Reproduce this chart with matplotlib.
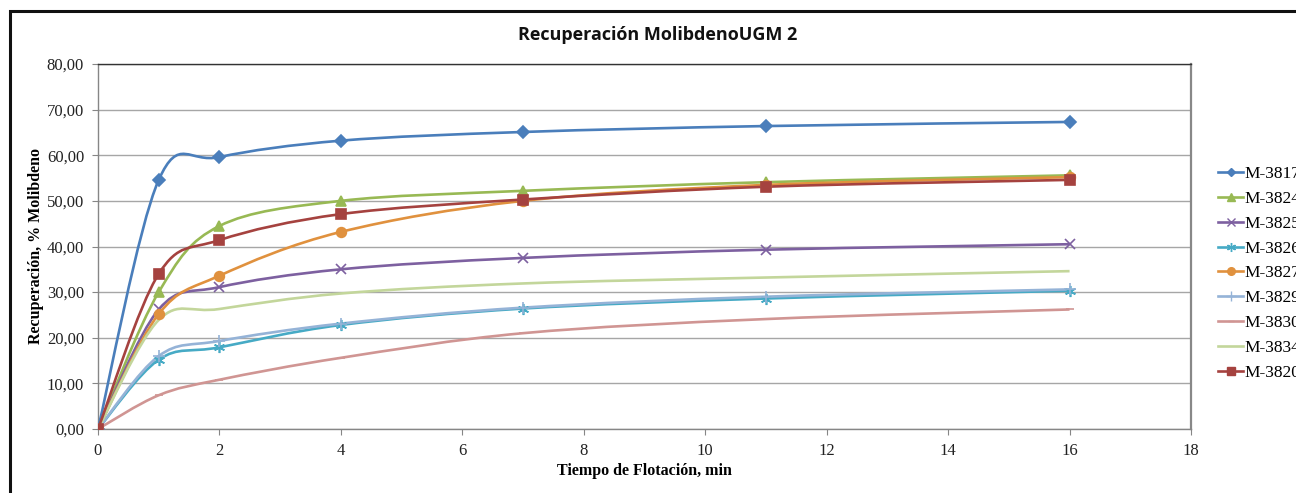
import numpy as np
import matplotlib
matplotlib.use("Agg")
import matplotlib.pyplot as plt
from matplotlib.path import Path
from matplotlib.patches import PathPatch, Rectangle
from matplotlib.lines import Line2D
from matplotlib.ticker import FuncFormatter, MultipleLocator

# ---- data ----
tiempo = [0, 1, 2, 4, 7, 11, 16]
series_names = ["M-3817", "M-3824", "M-3825", "M-3826", "M-3827",
                "M-3829", "M-3830", "M-3834", "M-3820"]
m3817 = [0, 54.6, 59.6, 63.2, 65.1, 66.4, 67.3]
m3824 = [0, 30.0, 44.5, 50.0, 52.2, 54.1, 55.6]
m3825 = [0, 26.2, 31.1, 35.0, 37.5, 39.3, 40.5]
m3826 = [0, 15.2, 17.9, 22.8, 26.4, 28.6, 30.3]
m3827 = [0, 25.2, 33.6, 43.2, 50.0, 53.5, 55.2]
m3829 = [0, 16.0, 19.3, 23.1, 26.6, 29.0, 30.6]
m3830 = [0, 7.4, 10.8, 15.6, 21.0, 24.1, 26.2]
m3834 = [0, 23.9, 26.3, 29.7, 31.9, 33.2, 34.6]
m3820 = [0, 34.0, 41.4, 47.1, 50.3, 53.1, 54.6]
values = [m3817, m3824, m3825, m3826, m3827, m3829, m3830, m3834, m3820]

colors = ["#4A7EBB", "#98B954", "#7D60A0", "#46AAC5", "#E0913E",
          "#95B3D7", "#D09593", "#C3D69B", "#A5423F"]
markers = ["D", "^", "x", (6, 2, 0), "o", "+", "_", None, "s"]
msizes = [6, 7, 7, 8, 7, 8, 6, 0, 7]

fig = plt.figure(figsize=(12.96, 4.93), dpi=100)
ax = fig.add_axes([98/1296, 1-429/493, (1191-98)/1296, (429-64)/493])


def smooth_path(x, y, k=6.0):
    pts = np.column_stack([x, y]).astype(float)
    n = len(pts)
    verts = [pts[0]]
    codes = [Path.MOVETO]
    for i in range(n - 1):
        p0 = pts[i - 1] if i > 0 else pts[i]
        p1 = pts[i]
        p2 = pts[i + 1]
        p3 = pts[i + 2] if i + 2 < n else pts[i + 1]
        c1 = p1 + (p2 - p0) / k
        c2 = p2 - (p3 - p1) / k
        verts += [c1, c2, p2]
        codes += [Path.CURVE4] * 3
    return Path(verts, codes)


handles = []
for name, vals, c, m, ms in zip(series_names, values, colors, markers, msizes):
    patch = PathPatch(smooth_path(tiempo, vals), facecolor="none",
                      edgecolor=c, lw=1.9, zorder=3)
    ax.add_patch(patch)
    if m is not None:
        ax.plot(tiempo, vals, linestyle="none", marker=m, markersize=ms,
                color=c, markeredgecolor=c, markeredgewidth=1.2, zorder=4)
    handles.append(Line2D([], [], color=c, lw=1.9, marker=m,
                          markersize=max(ms - 1.5, 0), markeredgewidth=1.0))

ax.set_xlim(0, 18)
ax.set_ylim(0, 80)
ax.xaxis.set_major_locator(MultipleLocator(2))
ax.yaxis.set_major_locator(MultipleLocator(10))
ax.yaxis.set_major_formatter(FuncFormatter(lambda v, p: f"{v:.2f}".replace(".", ",")))
ax.grid(axis="y", color="#A6A6A6", lw=1.0, zorder=0)
ax.set_axisbelow(True)

for s in ["left", "bottom"]:
    ax.spines[s].set_color("#868686")
    ax.spines[s].set_linewidth(1.0)
ax.spines["top"].set_color("#333333")
ax.spines["top"].set_linewidth(1.0)
ax.spines["right"].set_color("#888888")
ax.spines["right"].set_linewidth(1.6)

ax.tick_params(axis="both", direction="out", length=4, color="#868686",
               labelsize=12, labelcolor="#222222")
ax.tick_params(axis="y", pad=6)
ax.tick_params(axis="x", pad=6)
for lab in ax.get_xticklabels() + ax.get_yticklabels():
    lab.set_fontfamily("Liberation Serif")

ax.set_xlabel("Tiempo de Flotación, min", fontfamily="Liberation Serif",
              fontweight="bold", fontsize=11.5, labelpad=3)
ax.set_ylabel("Recuperación, % Molibdeno", fontfamily="Liberation Serif",
              fontweight="bold", fontsize=11.5, labelpad=2)

fig.text(658/1296, 1-35/493, "Recuperación MolibdenoUGM 2",
         fontfamily="Open Sans", fontweight="bold", fontsize=13,
         ha="center", va="center", color="#111111")

leg = fig.legend(handles, series_names, loc="upper left",
                 bbox_to_anchor=(1211/1296, 1-159/493), frameon=False,
                 prop={"family": "Liberation Serif", "size": 12.5},
                 handlelength=1.45, handletextpad=0.08, labelspacing=0.5,
                 borderaxespad=0)

# outer chart frame (cropped on right/bottom)
fig.patches.append(Rectangle((10/1296, -0.2), 1.5, 1.2 - 11/493,
                             transform=fig.transFigure, fill=False,
                             edgecolor="#111111", lw=2.2))

fig.savefig("out.png", dpi=100)
